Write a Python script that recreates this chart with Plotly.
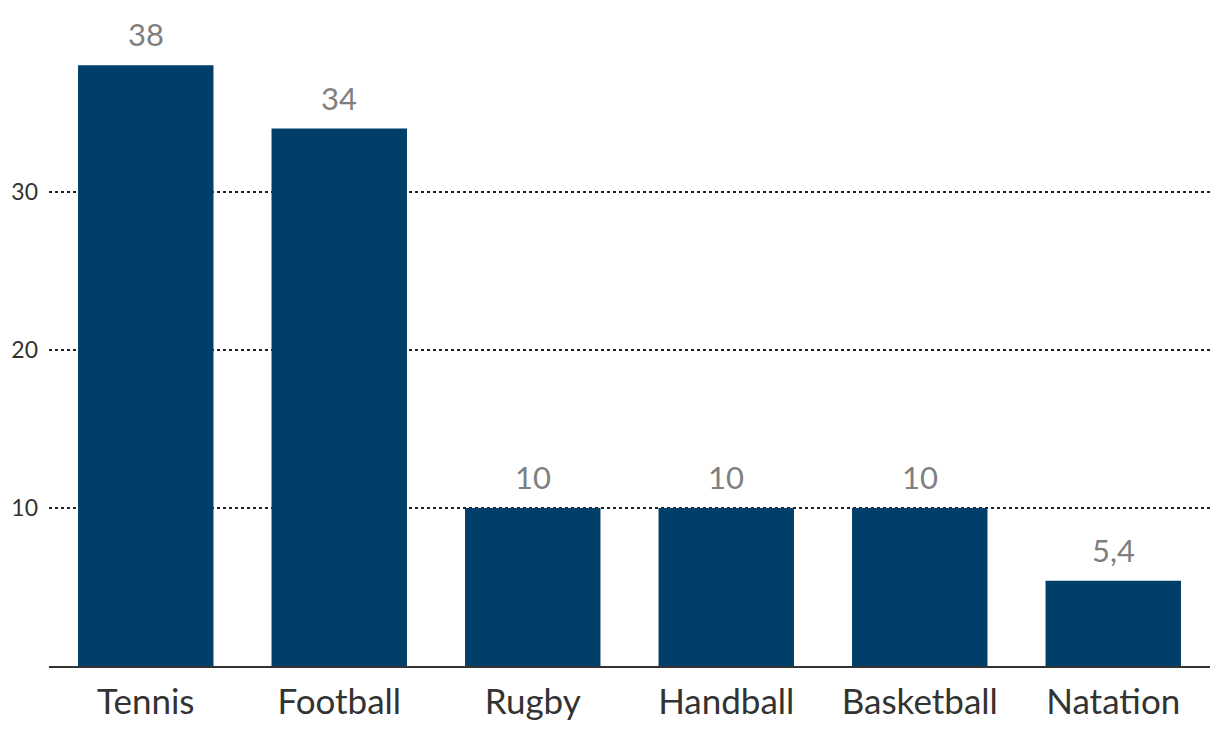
import plotly.graph_objects as go

categories = ["Tennis", "Football", "Rugby", "Handball", "Basketball", "Natation"]
values = [38, 34, 10, 10, 10, 5.4]
value_labels = ["38", "34", "10", "10", "10", "5,4"]
y_ticks = [10, 20, 30]

FONT = "Source Sans Pro, Lato, Noto Sans, sans-serif"

fig = go.Figure()
fig.add_trace(go.Bar(
    x=categories, y=values, marker_color="#003f69", marker_line_width=0,
    width=0.7, hoverinfo="skip",
))
for c, v, t in zip(categories, values, value_labels):
    fig.add_annotation(x=c, y=v, text=t, showarrow=False, yanchor="middle",
                       yshift=31, font=dict(family=FONT, size=31, color="#7f7f7f"))

fig.update_layout(
    width=1220, height=742, plot_bgcolor="white", paper_bgcolor="white",
    margin=dict(l=41, r=18, t=2, b=84, autoexpand=False), showlegend=False,
    font=dict(family=FONT),
)
fig.update_xaxes(range=[-0.5, 5.5], showgrid=False, showline=True, linecolor="#333333",
                 linewidth=2, ticks="", tickfont=dict(size=35, color="#333333", family=FONT),
                 ticklabelstandoff=4)
fig.update_yaxes(range=[0, 41.5], tickvals=y_ticks, showgrid=True, gridcolor="#222222",
                 griddash="dot", gridwidth=1.5, zeroline=False, showline=False, ticks="",
                 tickfont=dict(size=23, color="#333333", family=FONT), ticklabelstandoff=10)
fig.write_html("out.html")
